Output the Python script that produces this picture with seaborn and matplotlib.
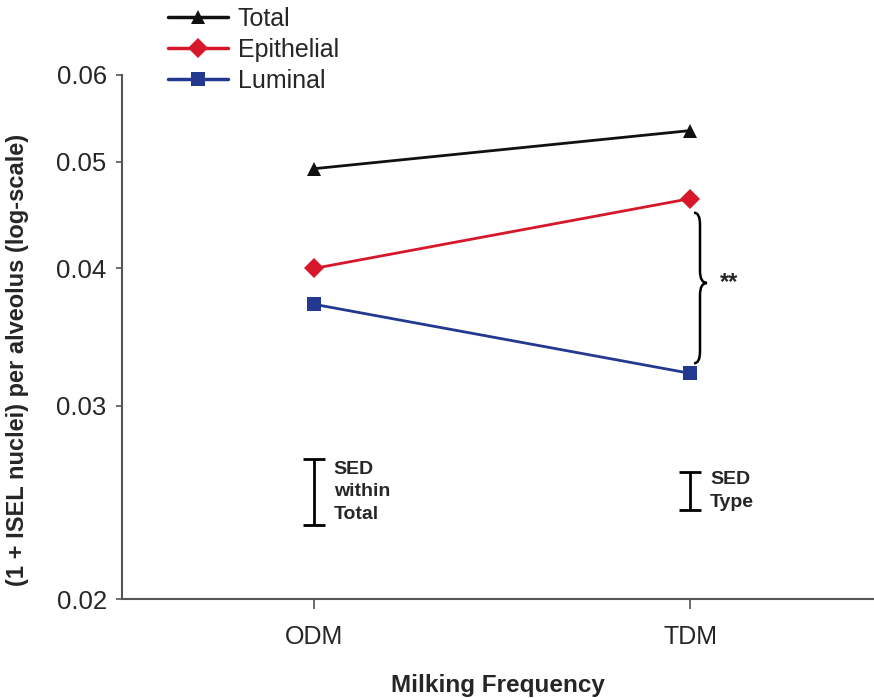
import numpy as np
import pandas as pd
import matplotlib
matplotlib.use("Agg")
import matplotlib.pyplot as plt
import seaborn as sns
from matplotlib.path import Path
from matplotlib.patches import PathPatch

# ---- data ----
frequency = ["ODM", "TDM"]
total = [0.0493, 0.0534]
epithelial = [0.0400, 0.0463]
luminal = [0.0371, 0.0321]
series_names = ["Total", "Epithelial", "Luminal"]
sed_within_total = [0.02336, 0.02682]   # lower, upper end of SED bar
sed_type = [0.0241, 0.0261]
y_ticks = [0.02, 0.03, 0.04, 0.05, 0.06]
y_tick_labels = ["0.02", "0.03", "0.04", "0.05", "0.06"]

df = pd.DataFrame({
    "Milking Frequency": frequency * 3,
    "value": total + epithelial + luminal,
    "Series": [s for s in series_names for _ in frequency],
})

sns.set_style("white")
plt.rcParams["font.family"] = ["Liberation Sans", "DejaVu Sans"]

fig = plt.figure(figsize=(8.74, 6.98), dpi=100)
ax = fig.add_axes([122 / 874, 1 - 599 / 698, 752 / 874, (599 - 75) / 698])

palette = {"Total": "#111111", "Epithelial": "#d7182a", "Luminal": "#22398f"}
markers = {"Total": "^", "Epithelial": "D", "Luminal": "s"}
sns.lineplot(data=df, x="Milking Frequency", y="value", hue="Series", style="Series",
             markers=markers, dashes=False, palette=palette, markersize=10.5,
             markeredgewidth=0, linewidth=2.0, ax=ax, legend=True)

ax.set_yscale("log")
ax.set_ylim(0.02, 0.06)
ax.set_xlim(-0.511, 1.489)
ax.set_yticks(y_ticks)
ax.set_yticklabels(y_tick_labels)
ax.yaxis.set_minor_locator(matplotlib.ticker.NullLocator())
ax.yaxis.set_minor_formatter(matplotlib.ticker.NullFormatter())

for s in ["top", "right"]:
    ax.spines[s].set_visible(False)
for s in ["left", "bottom"]:
    ax.spines[s].set_color("#555555")
    ax.spines[s].set_linewidth(1.5)

ax.tick_params(axis="y", direction="out", length=4, width=1.2, color="#555555",
               labelsize=18.5, pad=7, left=True)
ax.tick_params(axis="x", direction="out", length=7, width=1.2, color="#555555",
               labelsize=18, pad=12, bottom=True)

ax.set_xlabel("Milking Frequency", fontsize=17.5, fontweight="bold", labelpad=18)
ax.set_ylabel("(1 + ISEL nuclei) per alveolus (log-scale)", fontsize=17,
              fontweight="bold")
ax.yaxis.set_label_coords(-0.124, 0.456)

# legend outside, top-left
handles, labels = ax.get_legend_handles_labels()
ax.get_legend().remove()
for h in handles:
    h.set_linewidth(2.5)
fig.legend(handles, labels, loc="upper left", bbox_to_anchor=(168 / 874, 1 - 7 / 698),
           frameon=False, fontsize=18, handlelength=2.4, handletextpad=0.4,
           labelspacing=0.28, borderpad=0, borderaxespad=0)

# SED bars
for xpos, (lo, hi), txt, dx in [(0, sed_within_total, "SED\nwithin\nTotal", 0.052),
                                (1, sed_type, "SED\nType", 0.053)]:
    c = np.sqrt(lo * hi)
    ax.errorbar([xpos], [c], yerr=[[c - lo], [hi - c]], fmt="none", ecolor="black",
                elinewidth=2.0, capsize=8, capthick=2.0)
    ax.text(xpos + dx, c, txt, fontsize=14, fontweight="bold", va="center",
            ha="left", linespacing=1.4)

# curly brace between Epithelial and Luminal at TDM
to_ax = lambda x, y: ax.transAxes.inverted().transform(ax.transData.transform((x, y)))
top = to_ax(1, epithelial[1])[1] - 14 / 524
bot = to_ax(1, luminal[1])[1] + 10 / 524
mid = (top + bot) / 2 + 5 / 524
x0 = (694 - 122) / 752
xm = (700 - 122) / 752
xt = (707 - 122) / 752
ry = 12 / 524
verts = [(x0, top), (xm, top), (xm, top - ry), (xm, mid + ry),
         (xm, mid), (xt, mid), (xm, mid), (xm, mid - ry),
         (xm, bot + ry), (xm, bot), (x0, bot)]
codes = [Path.MOVETO, Path.CURVE3, Path.CURVE3, Path.LINETO,
         Path.CURVE3, Path.CURVE3, Path.CURVE3, Path.CURVE3,
         Path.LINETO, Path.CURVE3, Path.CURVE3]
ax.add_patch(PathPatch(Path(verts, codes), transform=ax.transAxes, fill=False,
                       lw=1.8, color="black", clip_on=False))
ax.text((720 - 122) / 752, mid, "**", transform=ax.transAxes, fontsize=17,
        fontweight="bold", va="center", ha="left")

fig.savefig("out.png", dpi=100)
